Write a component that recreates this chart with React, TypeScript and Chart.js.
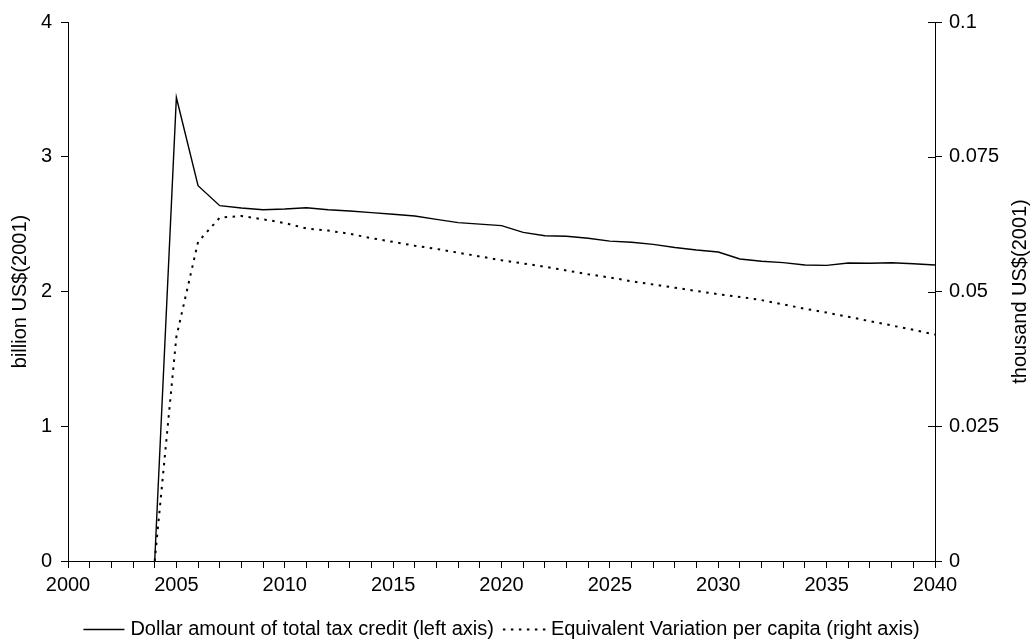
import React, { useEffect, useRef } from 'react';
import { Chart, registerables } from 'chart.js';

Chart.register(...registerables);

// ---- Data ----
const years = [
  2004, 2005, 2006, 2007, 2008, 2009, 2010, 2011, 2012, 2013, 2014, 2015, 2016,
  2017, 2018, 2019, 2020, 2021, 2022, 2023, 2024, 2025, 2026, 2027, 2028, 2029,
  2030, 2031, 2032, 2033, 2034, 2035, 2036, 2037, 2038, 2039, 2040,
];
// billion US$(2001), left axis
const creditBillion = [
  0, 3.44, 2.785, 2.637, 2.62, 2.607, 2.612, 2.622, 2.607, 2.597, 2.585, 2.573,
  2.56, 2.535, 2.511, 2.5, 2.489, 2.439, 2.414, 2.41, 2.395, 2.374, 2.365, 2.35,
  2.327, 2.308, 2.293, 2.241, 2.224, 2.214, 2.197, 2.194, 2.212, 2.21, 2.213,
  2.206, 2.197,
];
// thousand US$(2001), right axis
const evThousand = [
  0, 0.0416, 0.0592, 0.0637, 0.064, 0.0634, 0.0627, 0.0617, 0.0613, 0.0607,
  0.0599, 0.0592, 0.0585, 0.0579, 0.0572, 0.0565, 0.0558, 0.0552, 0.0546,
  0.0539, 0.0532, 0.0526, 0.0519, 0.0513, 0.0507, 0.0501, 0.0495, 0.049, 0.0484,
  0.0476, 0.0468, 0.0461, 0.0453, 0.0445, 0.0437, 0.0429, 0.042,
];
const seriesLabels = [
  'Dollar amount of total tax credit (left axis)',
  'Equivalent Variation per capita (right axis)',
];
const leftAxisTitle = 'billion US$(2001)';
const rightAxisTitle = 'thousand US$(2001)';
const xRange = [2000, 2040];
const xLabelEvery = 5;
const leftRange = [0, 4];
const leftStep = 1;
const rightRange = [0, 0.1];
const rightStep = 0.025;

const FONT = '"Liberation Sans", Arial, Helvetica, sans-serif';

const decorPlugin = {
  id: 'decor',
  afterDraw(chart: any) {
    const ctx = chart.ctx as CanvasRenderingContext2D;
    const { left, right, top, bottom } = chart.chartArea;
    ctx.save();
    ctx.strokeStyle = '#000';
    ctx.fillStyle = '#000';
    ctx.lineWidth = 1;
    // inner half of right-axis ticks (they cross the axis)
    const y1 = chart.scales.y1;
    y1.ticks.forEach((t: any) => {
      const py = Math.round(y1.getPixelForValue(t.value)) + 0.5;
      ctx.beginPath();
      ctx.moveTo(right - 7, py);
      ctx.lineTo(right, py);
      ctx.stroke();
    });
    // axis titles
    ctx.font = `20px ${FONT}`;
    ctx.textAlign = 'center';
    ctx.textBaseline = 'middle';
    const cy = (top + bottom) / 2;
    ctx.save();
    ctx.translate(20, cy);
    ctx.rotate(-Math.PI / 2);
    ctx.fillText(leftAxisTitle, 0, 0);
    ctx.restore();
    ctx.save();
    ctx.translate(1020, cy);
    ctx.rotate(-Math.PI / 2);
    ctx.fillText(rightAxisTitle, 0, 0);
    ctx.restore();

    // legend
    const sampleW = [41, 43];
    const gapAfterSample = [6, 5];
    const gapBetween = 9;
    const ds = chart.data.datasets;
    const textW = ds.map((d: any) => ctx.measureText(d.label).width);
    const total =
      sampleW[0] + gapAfterSample[0] + textW[0] + gapBetween + sampleW[1] + gapAfterSample[1] + textW[1];
    let x = (left + right) / 2 - total / 2;
    const ly = 629;
    ds.forEach((d: any, i: number) => {
      ctx.save();
      ctx.lineWidth = d.borderWidth;
      ctx.setLineDash(d.borderDash || []);
      ctx.beginPath();
      ctx.moveTo(x, ly + 0.5);
      ctx.lineTo(x + sampleW[i], ly + 0.5);
      ctx.stroke();
      ctx.restore();
      x += sampleW[i] + gapAfterSample[i];
      ctx.textAlign = 'left';
      ctx.textBaseline = 'middle';
      ctx.fillText(d.label, x, ly);
      x += textW[i] + gapBetween;
    });
    ctx.restore();
  },
};

export default function App() {
  const canvasRef = useRef<HTMLCanvasElement | null>(null);

  useEffect(() => {
    if (!canvasRef.current) return;
    Chart.defaults.color = '#000';
    Chart.defaults.font.family = FONT;
    Chart.defaults.font.size = 20;

    const chart = new Chart(canvasRef.current, {
      type: 'line',
      data: {
        datasets: [
          {
            label: seriesLabels[0],
            data: years.map((x, i) => ({ x, y: creditBillion[i] })),
            yAxisID: 'y',
            borderColor: '#000',
            borderWidth: 1.4,
            pointRadius: 0,
            tension: 0,
            fill: false,
          },
          {
            label: seriesLabels[1],
            data: years.map((x, i) => ({ x, y: evThousand[i] })),
            yAxisID: 'y1',
            borderColor: '#000',
            borderWidth: 2,
            borderDash: [2.5, 5.5],
            pointRadius: 0,
            tension: 0,
            fill: false,
          },
        ],
      },
      options: {
        responsive: false,
        animation: false,
        layout: { padding: { top: 22, left: 0, right: 0, bottom: 0 } },
        plugins: {
          legend: { display: false },
          tooltip: { enabled: false },
        },
        scales: {
          x: {
            type: 'linear',
            min: xRange[0],
            max: xRange[1],
            afterFit: (s: any) => {
              s.height = 79;
            },
            grid: {
              display: true,
              drawOnChartArea: false,
              drawTicks: true,
              tickLength: 7,
              color: '#000',
            },
            border: { display: true, color: '#000', width: 1 },
            ticks: {
              stepSize: 1,
              autoSkip: false,
              maxRotation: 0,
              padding: 5,
              color: '#000',
              font: { size: 20, family: FONT },
              callback: (v: any) => (Number(v) % xLabelEvery === 0 ? String(v) : ''),
            },
          },
          y: {
            type: 'linear',
            position: 'left',
            min: leftRange[0],
            max: leftRange[1],
            afterFit: (s: any) => {
              s.width = 68;
            },
            grid: {
              display: true,
              drawOnChartArea: false,
              drawTicks: true,
              tickLength: 7,
              color: '#000',
            },
            border: { display: true, color: '#000', width: 1 },
            ticks: {
              stepSize: leftStep,
              padding: 9,
              color: '#000',
              font: { size: 20, family: FONT },
              callback: (v: any) => String(v),
            },
          },
          y1: {
            type: 'linear',
            position: 'right',
            min: rightRange[0],
            max: rightRange[1],
            afterFit: (s: any) => {
              s.width = 97;
            },
            grid: {
              display: true,
              drawOnChartArea: false,
              drawTicks: true,
              tickLength: 7,
              color: '#000',
            },
            border: { display: true, color: '#000', width: 1 },
            ticks: {
              stepSize: rightStep,
              padding: 7,
              color: '#000',
              font: { size: 20, family: FONT },
              callback: (v: any) => String(Number(Number(v).toFixed(3))),
            },
          },
        },
      },
      plugins: [decorPlugin],
    });
    return () => chart.destroy();
  }, []);

  return (
    <div style={{ position: 'absolute', left: 0, top: 0, width: 1032, height: 640, background: '#fff' }}>
      <canvas ref={canvasRef} width={1032} height={640} />
    </div>
  );
}
